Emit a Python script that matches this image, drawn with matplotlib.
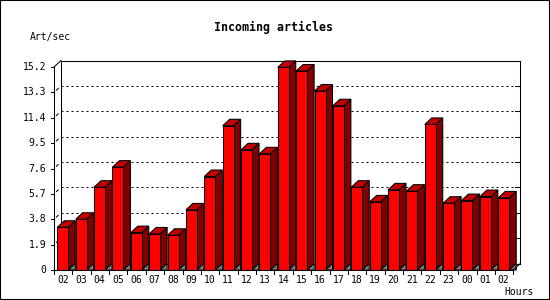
import matplotlib
matplotlib.use('Agg')
import matplotlib.pyplot as plt
from matplotlib.patches import Polygon, Rectangle

# data
hours = ['02', '03', '04', '05', '06', '07', '08', '09', '10', '11', '12', '13',
         '14', '15', '16', '17', '18', '19', '20', '21', '22', '23', '00', '01', '02']
values = [3.2, 3.8, 6.2, 7.7, 2.8, 2.7, 2.6, 4.5, 7.0, 10.8, 9.0, 8.7,
          15.17, 14.9, 13.4, 12.3, 6.2, 5.1, 6.0, 5.9, 10.9, 5.0, 5.2, 5.5, 5.4]
yticks = [0, 1.9, 3.8, 5.7, 7.6, 9.5, 11.4, 13.3, 15.2]
ytick_labels = ['0', '1.9', '3.8', '5.7', '7.6', '9.5', '11.4', '13.3', '15.2']

W, H = 550, 300
fig = plt.figure(figsize=(5.5, 3), dpi=100)
ax = fig.add_axes([54 / W, 30 / H, 459.3 / W, 203 / H])
n = len(values)
ymax = yticks[-1]
ax.set_xlim(0, n)
ax.set_ylim(0, ymax)
ax.axis('off')

# one pixel in data units
px = n / 459.3
py = ymax / 203
DX = 7 * px
DY = 6.5 * py
lw = 0.75
font = 'DejaVu Sans Mono'

# back plane frame
ax.add_patch(Polygon([(DX, DY), (n + DX, DY), (n + DX, ymax + DY), (DX, ymax + DY)],
                     closed=True, fill=False, ec='black', lw=lw, clip_on=False, zorder=1))

# grid lines on the back plane
for t in yticks[1:-1]:
    ax.plot([DX, n + DX], [t + DY, t + DY], color='black', lw=0.72,
            ls=(0, (2, 3)), clip_on=False, zorder=1)
    # piece of the side wall line
    ax.plot([0.35 * DX, 0.6 * DX], [t + 0.35 * DY, t + 0.6 * DY], color='black',
            lw=lw, clip_on=False, zorder=1)

# small ticks on the right of the back plane
for t in yticks:
    ax.plot([n + DX - 5 * px, n + DX], [t + DY, t + DY], color='black', lw=lw,
            clip_on=False, zorder=1)

# y axis
ax.plot([0, 0], [0, ymax], color='black', lw=lw, clip_on=False, zorder=5)
ax.plot([0, DX], [ymax, ymax + DY], color='black', lw=lw, clip_on=False, zorder=5)
for t, lab in zip(yticks, ytick_labels):
    ax.plot([-3 * px, 0], [t, t], color='black', lw=lw, clip_on=False, zorder=5)
    ax.text(-8 * px, t, lab, ha='right', va='center', fontsize=7, family=font)

# bars
bw = 11 * px
off = 3.3 * px
for i, v in enumerate(values):
    x0 = i + off
    r = x0 + bw
    z = 2 + i * 0.01
    ax.add_patch(Polygon([(r, 0), (r + DX, DY), (r + DX, v + DY), (r, v)], closed=True,
                         fc='#800000', ec='black', lw=lw, clip_on=False, zorder=z))
    ax.add_patch(Polygon([(r, 0), (r + DX, DY), (r + DX, 0)], closed=True,
                         fc='#808080', ec='black', lw=lw, clip_on=False, zorder=z))
    ax.add_patch(Polygon([(x0, v), (x0 + DX, v + DY), (r + DX, v + DY), (r, v)], closed=True,
                         fc='#C00000', ec='black', lw=lw, clip_on=False, zorder=z + 0.001))
    ax.add_patch(Rectangle((x0, 0), bw, v, fc='#FF0000', ec='black', lw=lw,
                           clip_on=False, zorder=z + 0.002))
    ax.text(x0 + bw / 2, -10 * py, hours[i], ha='center', va='center',
            fontsize=7, family=font)

# x axis and floor edge
ax.plot([0, n], [0, 0], color='black', lw=lw, clip_on=False, zorder=5)
ax.plot([n, n + DX], [0, DY], color='black', lw=lw, clip_on=False, zorder=5)
for k in range(n + 1):
    ax.plot([k, k], [0, -4 * py], color='black', lw=lw, clip_on=False, zorder=5)

fig.text(274 / W, 1 - 27 / H, 'Incoming articles', ha='center', va='center',
         fontsize=8.4, fontweight='bold', family=font)
fig.text(30 / W, 1 - 37 / H, 'Art/sec', ha='left', va='center', fontsize=7, family=font)
fig.text(534 / W, 1 - 292 / H, 'Hours', ha='right', va='center', fontsize=7, family=font)

fig.patches.append(Rectangle((0, 0), 1, 1, transform=fig.transFigure, fill=False,
                             ec='black', lw=1.5))

fig.savefig('out.png', dpi=100)
